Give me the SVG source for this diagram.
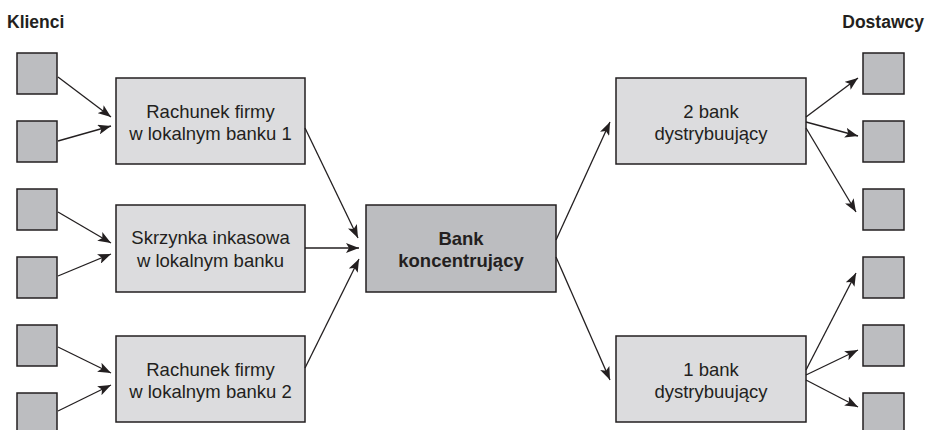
<svg xmlns="http://www.w3.org/2000/svg" width="926" height="430" viewBox="0 0 926 430">
<style>
.sq{fill:#bcbdc0;stroke:#231f20;stroke-width:1.5}
.bx{fill:#dcdcde;stroke:#231f20;stroke-width:1.5}
.bc{fill:#bcbdc0;stroke:#231f20;stroke-width:1.5}
.t{font-family:"Liberation Sans",Arial,sans-serif;font-size:18.5px;fill:#231f20;text-anchor:middle}
.b{font-weight:bold}
.h{font-family:"Liberation Sans",Arial,sans-serif;font-size:17.5px;font-weight:bold;fill:#231f20}
.c line{stroke:#231f20;stroke-width:1.3;marker-end:url(#ah)}
</style>
<defs>
<marker id="ah" markerUnits="userSpaceOnUse" markerWidth="14" markerHeight="10" refX="13" refY="5" orient="auto">
<path d="M0,0 L13,5 L0,10 L3,5 Z" fill="#231f20"/>
</marker>
</defs>
<rect width="926" height="430" fill="#fff"/>
<text class="h" x="7" y="28">Klienci</text>
<text class="h" x="924" y="28" text-anchor="end">Dostawcy</text>

<g id="k1"><rect class="sq" x="17" y="53" width="40" height="41"/></g>
<g id="k2"><rect class="sq" x="17" y="121" width="40" height="41"/></g>
<g id="k3"><rect class="sq" x="17" y="189" width="40" height="41"/></g>
<g id="k4"><rect class="sq" x="17" y="257" width="40" height="41"/></g>
<g id="k5"><rect class="sq" x="17" y="325" width="40" height="41"/></g>
<g id="k6"><rect class="sq" x="17" y="393" width="40" height="41"/></g>

<g id="d1"><rect class="sq" x="863" y="53" width="41" height="41"/></g>
<g id="d2"><rect class="sq" x="863" y="121" width="41" height="41"/></g>
<g id="d3"><rect class="sq" x="863" y="189" width="41" height="41"/></g>
<g id="d4"><rect class="sq" x="863" y="257" width="41" height="41"/></g>
<g id="d5"><rect class="sq" x="863" y="325" width="41" height="41"/></g>
<g id="d6"><rect class="sq" x="863" y="393" width="41" height="41"/></g>

<g id="r1"><rect class="bx" x="116" y="78" width="189" height="86"/>
<text class="t" x="210.5" y="118">Rachunek firmy</text><text class="t" x="210.5" y="140">w lokalnym banku 1</text></g>
<g id="sk"><rect class="bx" x="116" y="205" width="189" height="87"/>
<text class="t" x="210.5" y="244">Skrzynka inkasowa</text><text class="t" x="210.5" y="267">w lokalnym banku</text></g>
<g id="r2"><rect class="bx" x="116" y="336" width="189" height="86"/>
<text class="t" x="210.5" y="376">Rachunek firmy</text><text class="t" x="210.5" y="398">w lokalnym banku 2</text></g>
<g id="bk"><rect class="bc" x="366" y="205" width="190" height="87"/>
<text class="t b" x="461" y="245">Bank</text><text class="t b" x="461" y="267">koncentrujący</text></g>
<g id="b2"><rect class="bx" x="616" y="78" width="190" height="86"/>
<text class="t" x="711" y="118">2 bank</text><text class="t" x="711" y="140">dystrybuujący</text></g>
<g id="b1"><rect class="bx" x="616" y="336" width="190" height="86"/>
<text class="t" x="711" y="376">1 bank</text><text class="t" x="711" y="398">dystrybuujący</text></g>

<g id="connectors" class="c">
<line x1="58" y1="77" x2="111" y2="117"/>
<line x1="58" y1="141" x2="111" y2="126"/>
<line x1="58" y1="212" x2="111" y2="243"/>
<line x1="58" y1="276" x2="111" y2="254"/>
<line x1="58" y1="347" x2="111" y2="373"/>
<line x1="58" y1="411" x2="111" y2="385"/>
<line x1="305" y1="128" x2="358" y2="238"/>
<line x1="305" y1="248" x2="359" y2="248"/>
<line x1="305" y1="368" x2="359" y2="259"/>
<line x1="556" y1="240" x2="610" y2="122"/>
<line x1="556" y1="257" x2="610" y2="380"/>
<line x1="806" y1="117" x2="858" y2="78"/>
<line x1="806" y1="122" x2="858" y2="136"/>
<line x1="806" y1="128" x2="856" y2="212"/>
<line x1="806" y1="370" x2="856" y2="273"/>
<line x1="806" y1="375" x2="858" y2="350"/>
<line x1="806" y1="380" x2="858" y2="407"/>
</g>
</svg>
